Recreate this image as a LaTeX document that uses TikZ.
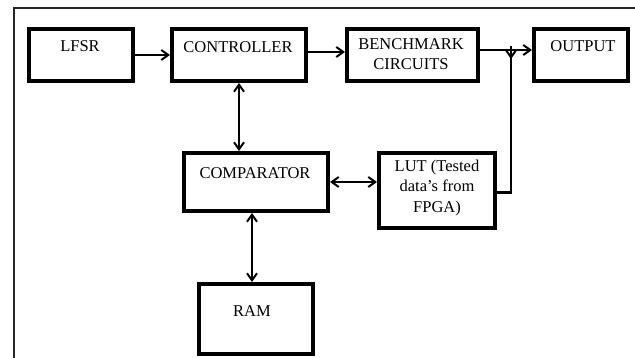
\documentclass[tikz,border=0pt]{standalone}
\usepackage{fontspec}
\setmainfont{Liberation Serif}
\usetikzlibrary{arrows.meta}
\begin{document}
\begin{tikzpicture}[x=1pt,y=-1pt,
  blk/.style={draw,line width=4pt,inner sep=0pt,fill=white},
  lbl/.style={font=\fontsize{16.5}{20.5}\selectfont,align=center,inner sep=0pt},
  tip/.style={Straight Barb[length=7pt,width=10pt,line width=2pt]},
  conn/.style={line width=2.4pt,-{Straight Barb[length=7pt,width=10pt,line width=2pt]}},
  bconn/.style={line width=2.4pt,{Straight Barb[length=7pt,width=10pt,line width=2pt]}-{Straight Barb[length=7pt,width=10pt,line width=2pt]}}]
\useasboundingbox (0,0) rectangle (635,358);
\fill[white] (0,0) rectangle (635,358);
\begin{scope}
\clip (0,0) rectangle (635,358);
\draw[line width=1.5pt,black!85] (14,8) rectangle (640,365);
\end{scope}
% boxes
\node[blk,minimum width=104pt,minimum height=52pt] (lfsr) at (81,55) {};
\node[blk,minimum width=134pt,minimum height=52pt] (ctrl) at (239,55) {};
\node[blk,minimum width=131pt,minimum height=52pt] (bench) at (412.5,55) {};
\node[blk,minimum width=94pt,minimum height=52pt] (out) at (581,55) {};
\node[blk,minimum width=144pt,minimum height=58pt] (cmp) at (256,182) {};
\node[blk,minimum width=116pt,minimum height=75pt] (lut) at (437,190.5) {};
\node[blk,minimum width=114pt,minimum height=70pt] (ram) at (256,319) {};
% labels
\node[lbl] (tlfsr) at (80,46) {LFSR};
\node[lbl] (tctrl) at (238,47) {CONTROLLER};
\node[lbl] (tbench) at (411,54) {BENCHMARK\\CIRCUITS};
\node[lbl] (tout) at (583,46) {OUTPUT};
\node[lbl] (tcmp) at (255,173) {COMPARATOR};
\node[lbl] (tlut) at (437,188) {LUT (Tested\\data’s from\\FPGA)};
\node[lbl] (tram) at (252,311) {RAM};
% connectors
\draw[conn] (lfsr.east) -- (ctrl.west);
\draw[conn] ([yshift=3pt]ctrl.east) -- ([yshift=3pt]bench.west);
\draw[conn] ([yshift=5pt]bench.east) -- ([yshift=5pt]out.west);
\coordinate (j) at (511,60);
\draw[line width=2.4pt] ([yshift=-2pt]lut.east) -| ([yshift=2pt]j);
\draw[line width=2.4pt,-{Straight Barb[length=7pt,width=10pt,line width=2pt]}] ([yshift=14pt]j) -- ([yshift=1pt]j);
\draw[bconn] (ctrl.south) -- (ctrl.south |- cmp.north);
\draw[bconn] (cmp.east) -- (cmp.east -| lut.west);
\draw[bconn] ([xshift=-4pt]ram.north |- cmp.south) -- ([xshift=-4pt]ram.north);
\end{tikzpicture}
\end{document}
